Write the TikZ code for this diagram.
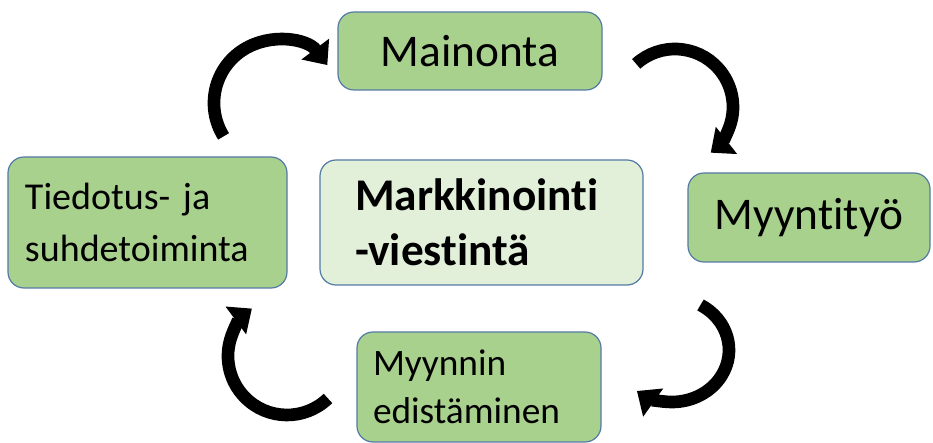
\documentclass[tikz,border=0pt]{standalone}
\usepackage{fontspec}
\setmainfont{Carlito}[Ligatures=NoCommon]
\usetikzlibrary{arrows.meta}
\definecolor{boxGreen}{RGB}{169,209,142}
\definecolor{boxLight}{RGB}{226,240,217}
\definecolor{boxEdge}{RGB}{84,122,166}

\begin{document}
\begin{tikzpicture}[x=0.75pt,y=0.75pt,
    part/.style={draw=boxEdge, line width=0.9pt, fill=boxGreen, rounded corners=12pt},
    cyc/.style={line width=9.5pt, -{Triangle[length=15pt,width=25pt]}}]
        \useasboundingbox (0,0) rectangle (933,443);
        % Centre box
        \node[part, fill=boxLight, text width=189.75pt, inner xsep=26.25pt, minimum height=93.75pt,
          align=left, font=\fontsize{34}{41}\selectfont\bfseries]
          (mv) at (481.5,220.5) {Markkinointi\\-viestintä};
        % Outer boxes
        \node[part, minimum width=198pt, minimum height=58.5pt, font=\fontsize{34}{40}\selectfont]
          (mai) at (470,392) {Mainonta};
        \node[part, minimum width=181.5pt, minimum height=66.75pt, font=\fontsize{34}{40}\selectfont]
          (myy) at (809,225.5) {Myyntityö};
        \node[part, text width=159pt, inner xsep=12pt, minimum height=82.5pt,
          align=left, font=\fontsize{28}{36}\selectfont]
          (edi) at (479,56) {Myynnin\\edistäminen};
        \node[part, text width=183.75pt, inner xsep=12.75pt, minimum height=98.25pt,
          align=left, font=\fontsize{28.5}{39}\selectfont]
          (tie) at (147.5,220.5) {Tiedotus- ja\\suhdetoiminta};
        % Curved arrows round the cycle
        \coordinate (c1) at (277,340);
        \coordinate (c2) at (675,336);
        \coordinate (c3) at (672,93);
        \coordinate (c4) at (287,87);
        \draw[cyc] (c1) ++(212:63) arc[start angle=212, end angle=37, radius=63];
        \draw[cyc] (c2) ++(132:58) arc[start angle=132, end angle=-52, radius=58];
        \draw[cyc] (c3) ++(60:57 and 52) arc[start angle=60, end angle=-128, x radius=57, y radius=52];
        \draw[cyc] (c4) ++(314:59) arc[start angle=314, end angle=126.5, radius=59];
      \end{tikzpicture}
\end{document}
